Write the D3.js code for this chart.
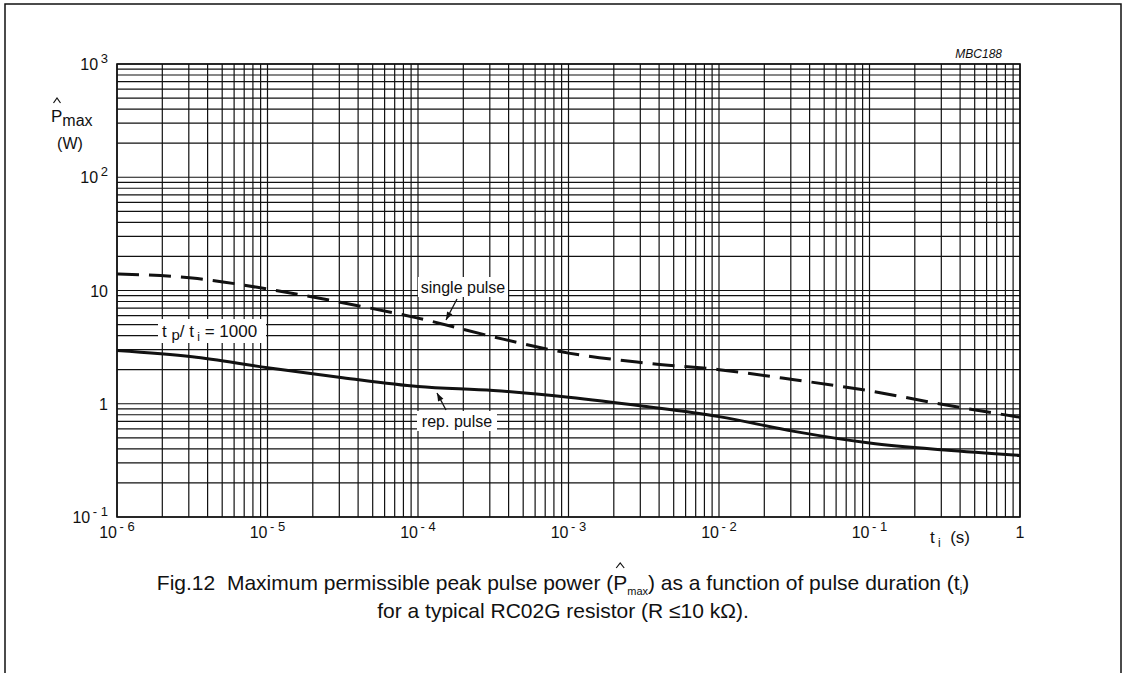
<!DOCTYPE html>
<html>
<head>
<meta charset="utf-8">
<script src="https://cdn.jsdelivr.net/npm/d3@7"></script>
<style>
  body { margin: 0; background: #fff; }
  text { font-family: "Liberation Sans", Arial, sans-serif; fill: #111; }
</style>
</head>
<body>
<div id="chart"></div>
<script>
const width = 1125
const height = 673

/* Data */
const pulseDuration = [1e-6, 3.16e-6, 1e-5, 3.16e-5, 1e-4, 3.16e-4, 1e-3, 3.16e-3, 1e-2, 3.16e-2, 1e-1, 3.16e-1, 1]
const singlePulse = [14, 12.9, 10.3, 7.8, 5.7, 3.9, 2.8, 2.3, 2.0, 1.63, 1.3, 0.98, 0.76]
const repPulse = [2.95, 2.6, 2.08, 1.7, 1.42, 1.31, 1.14, 0.95, 0.77, 0.57, 0.45, 0.39, 0.35]
const xTickExp = [-6, -5, -4, -3, -2, -1, 0]
const yTickExp = [-1, 0, 1, 2, 3]

const margin = { left: 117, right: 105, top: 64, bottom: 156 }

const x = d3.scaleLog().domain([1e-6, 1]).range([margin.left, width - margin.right])
const y = d3.scaleLog().domain([0.1, 1000]).range([height - margin.bottom, margin.top])

const svg = d3.select('#chart').append('svg').attr('width', width).attr('height', height)

/* page frame */
svg.append('path')
    .attr('d', `M5,${height} V4 H1121 V${height}`)
    .attr('fill', 'none')
    .attr('stroke', '#111')
    .attr('stroke-width', 1.5)

/* grid */
const grid = svg.append('g').attr('stroke', '#111').attr('stroke-width', 1.2)
grid.selectAll('line.v')
    .data(x.ticks())
    .join('line')
    .attr('class', 'v')
    .attr('x1', d => x(d)).attr('x2', d => x(d))
    .attr('y1', y.range()[0]).attr('y2', y.range()[1])
grid.selectAll('line.h')
    .data(y.ticks())
    .join('line')
    .attr('class', 'h')
    .attr('y1', d => y(d)).attr('y2', d => y(d))
    .attr('x1', x.range()[0]).attr('x2', x.range()[1])
svg.append('rect')
    .attr('x', x.range()[0]).attr('y', y.range()[1])
    .attr('width', x.range()[1] - x.range()[0])
    .attr('height', y.range()[0] - y.range()[1])
    .attr('fill', 'none').attr('stroke', '#111').attr('stroke-width', 1.6)

/* tick labels */
function powerLabel(sel, e) {
    if (e === 0) { sel.append('tspan').text('1'); return }
    if (e === 1) { sel.append('tspan').text('10'); return }
    sel.append('tspan').text('10')
    sel.append('tspan').attr('dy', -7).attr('font-size', 13)
        .text(e < 0 ? '\u2009- ' + (-e) : '\u2009' + e)
}

yTickExp.forEach(e => {
    const t = svg.append('text')
        .attr('x', x.range()[0] - 9)
        .attr('y', y(Math.pow(10, e)) + 6)
        .attr('text-anchor', 'end')
        .attr('font-size', 16)
    powerLabel(t, e)
})

xTickExp.forEach(e => {
    const t = svg.append('text')
        .attr('x', x(Math.pow(10, e)))
        .attr('y', y.range()[0] + 21)
        .attr('text-anchor', 'middle')
        .attr('font-size', 16)
    powerLabel(t, e)
})

/* hat accent drawn as a small chevron */
function hat(cx, top, w) {
    svg.append('path')
        .attr('d', `M${cx - w / 2},${top + 5} L${cx},${top} L${cx + w / 2},${top + 5}`)
        .attr('fill', 'none').attr('stroke', '#111').attr('stroke-width', 1.2)
}

/* axis titles */
const yTitle = svg.append('text').attr('x', 51).attr('y', 122).attr('font-size', 17)
yTitle.append('tspan').text('P')
yTitle.append('tspan').attr('dy', 4).attr('font-size', 16).text('max')
hat(57, 98, 7)
svg.append('text').attr('x', 70).attr('y', 149).attr('text-anchor', 'middle').attr('font-size', 16).text('(W)')

const xTitle = svg.append('text').attr('x', 930).attr('y', 543).attr('font-size', 17)
xTitle.append('tspan').text('t')
xTitle.append('tspan').attr('dy', 4).attr('font-size', 12).text(' i')
xTitle.append('tspan').attr('dy', -4).text('\u00a0 (s)')

svg.append('text')
    .attr('x', 1002).attr('y', 58)
    .attr('text-anchor', 'end')
    .attr('font-size', 12)
    .attr('font-style', 'italic')
    .text('MBC188')

/* curves */
const line = d3.line()
    .x((d, i) => x(pulseDuration[i]))
    .y(d => y(d))
    .curve(d3.curveMonotoneX)

svg.append('path')
    .attr('d', line(singlePulse))
    .attr('fill', 'none')
    .attr('stroke', '#111')
    .attr('stroke-width', 3)
    .attr('stroke-dasharray', '22,10')

svg.append('path')
    .attr('d', line(repPulse))
    .attr('fill', 'none')
    .attr('stroke', '#111')
    .attr('stroke-width', 3)

/* curve labels with white boxes */
function boxLabel(cx, cy, w, h) {
    svg.append('rect')
        .attr('x', cx - w / 2).attr('y', cy - h / 2)
        .attr('width', w).attr('height', h)
        .attr('fill', '#fff')
}
function arrow(x1, y1, x2, y2) {
    svg.append('line')
        .attr('x1', x1).attr('y1', y1).attr('x2', x2).attr('y2', y2)
        .attr('stroke', '#111').attr('stroke-width', 1.3)
    const a = Math.atan2(y2 - y1, x2 - x1)
    const L = 8, W = 3
    const p = [
        [x2, y2],
        [x2 - L * Math.cos(a) + W * Math.sin(a), y2 - L * Math.sin(a) - W * Math.cos(a)],
        [x2 - L * Math.cos(a) - W * Math.sin(a), y2 - L * Math.sin(a) + W * Math.cos(a)]
    ]
    svg.append('path').attr('d', 'M' + p.join('L') + 'Z').attr('fill', '#111')
}

boxLabel(463, 287, 90, 20)
svg.append('text').attr('x', 463).attr('y', 293).attr('text-anchor', 'middle').attr('font-size', 16).text('single pulse')
arrow(457, 299, 446, 320)

boxLabel(457, 421, 80, 20)
svg.append('text').attr('x', 457).attr('y', 427).attr('text-anchor', 'middle').attr('font-size', 16).text('rep. pulse')
arrow(446, 410, 437, 393)

boxLabel(212, 331, 108, 24)
const ratio = svg.append('text').attr('x', 162).attr('y', 337).attr('font-size', 17)
ratio.append('tspan').text('t ')
ratio.append('tspan').attr('dy', 3).attr('font-size', 15).text('p')
ratio.append('tspan').attr('dy', -3).text('/ t')
ratio.append('tspan').attr('dy', 4).attr('font-size', 12).text(' i')
ratio.append('tspan').attr('dy', -4).text(' = 1000')

/* caption */
const capStart = 'Fig.12\u00a0 Maximum permissible peak pulse power ('
const cap = svg.append('text').attr('x', 563).attr('y', 590).attr('text-anchor', 'middle').attr('font-size', 21)
cap.append('tspan').text(capStart + 'P')
cap.append('tspan').attr('dy', 5).attr('font-size', 11).text('max')
cap.append('tspan').attr('dy', -5).text(') as a function of pulse duration (t')
cap.append('tspan').attr('dy', 5).attr('font-size', 11).text('i')
cap.append('tspan').attr('dy', -5).text(')')
const pPos = cap.node().getStartPositionOfChar(capStart.length)
const pEnd = cap.node().getEndPositionOfChar(capStart.length)
hat((pPos.x + pEnd.x) / 2, 563, 8)

svg.append('text').attr('x', 563).attr('y', 618).attr('text-anchor', 'middle').attr('font-size', 21)
    .text('for a typical RC02G resistor (R \u226410 k\u03a9).')
</script>
</body>
</html>
